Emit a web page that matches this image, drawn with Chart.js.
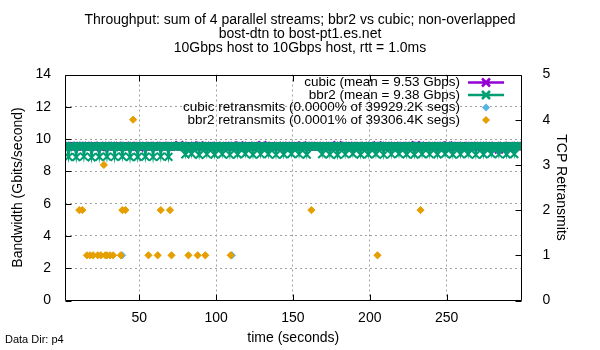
<!DOCTYPE html>
<html>
<head>
<meta charset="utf-8">
<script src="https://cdn.jsdelivr.net/npm/chart.js@4.4.0/dist/chart.umd.min.js"></script>
<style>
  body { margin: 0; background: #fff; }
</style>
</head>
<body>
<canvas id="chart" width="600" height="350"></canvas>
<script>
"use strict";

// one sample per second, first sample at t = 2 s
const T0 = 2;

const cubicGbps = [
  9.55,9.56,9.54,9.55,9.57,9.55,9.54,9.56,9.55,9.55,
  9.56,9.54,9.55,9.57,9.55,9.56,9.54,9.55,9.56,9.55,
  9.54,9.55,9.56,9.50,9.55,9.54,9.56,9.55,9.57,9.55,
  9.55,9.56,9.54,9.55,9.56,9.55,9.54,9.55,9.56,9.55,
  9.56,9.54,9.55,9.57,9.55,9.54,9.56,9.55,9.48,9.55,
  9.55,9.54,9.56,9.55,9.55,9.57,9.54,9.55,9.56,9.55,
  9.54,9.55,9.56,9.55,9.57,9.55,9.54,9.56,9.55,9.55,
  9.56,9.55,9.54,9.55,9.62,9.55,9.56,9.54,9.55,9.55,
  9.55,9.56,9.54,9.55,9.57,9.55,9.54,9.61,9.55,9.56,
  9.54,9.55,9.56,9.55,9.55,9.57,9.54,9.55,9.56,9.55,
  9.55,9.54,9.56,9.55,9.55,9.57,9.54,9.55,9.56,9.55,
  9.56,9.55,9.54,9.61,9.55,9.56,9.54,9.55,9.55,9.56,
  9.55,9.54,9.56,9.55,9.57,9.55,9.54,9.55,9.62,9.55,
  9.55,9.56,9.54,9.55,9.55,9.57,9.54,9.55,9.56,9.55,
  9.54,9.55,9.56,9.55,9.57,9.55,9.54,9.55,9.56,9.55,
  9.55,9.56,9.54,9.55,9.61,9.55,9.54,9.56,9.55,9.55,
  9.56,9.55,9.54,9.55,9.57,9.55,9.56,9.54,9.55,9.55,
  9.55,9.54,9.56,9.55,9.55,9.57,9.54,9.62,9.56,9.55,
  9.54,9.55,9.56,9.55,9.57,9.55,9.54,9.55,9.56,9.55,
  9.55,9.56,9.54,9.55,9.55,9.57,9.54,9.55,9.56,9.55,
  9.55,9.54,9.56,9.61,9.55,9.57,9.54,9.55,9.56,9.55,
  9.56,9.55,9.54,9.55,9.57,9.55,9.56,9.54,9.55,9.55,
  9.55,9.54,9.56,9.55,9.55,9.57,9.54,9.55,9.62,9.55,
  9.55,9.56,9.54,9.55,9.55,9.57,9.54,9.55,9.56,9.55,
  9.54,9.55,9.56,9.55,9.57,9.55,9.54,9.55,9.56,9.61,
  9.42,9.55,9.56,9.54,9.55,9.57,9.55,9.54,9.56,9.55,
  9.55,9.54,9.56,9.55,9.55,9.57,9.54,9.55,9.56,9.55,
  9.56,9.55,9.54,9.55,9.57,9.55,9.56,9.54,9.55,9.55,
  9.55,9.54,9.35,9.55,9.56,9.57,9.54,9.55,9.45,9.55,
  9.56,9.55,9.54,9.55,9.57,9.55,9.56
];

const bbr2Gbps = [
  9.55,9.52,8.90,9.56,9.54,9.55,9.50,8.88,9.56,9.55,
  9.53,9.57,8.92,9.55,9.54,9.56,9.52,8.87,9.55,9.56,
  9.54,9.55,8.90,9.56,9.53,9.55,9.54,8.91,9.56,9.55,
  9.52,9.56,8.89,9.55,9.57,9.54,9.50,8.93,9.55,9.56,
  9.55,9.53,8.88,9.56,9.55,9.54,9.52,8.90,9.56,9.55,
  9.54,9.56,8.91,9.55,9.53,9.57,9.54,8.89,9.55,9.56,
  9.55,9.52,8.92,9.56,9.54,9.55,9.53,8.90,9.56,9.55,
  9.54,9.56,9.55,9.53,9.57,9.55,9.54,9.56,9.05,9.55,
  9.56,9.54,9.08,9.55,9.57,9.53,9.55,9.02,9.56,9.54,
  9.55,9.56,9.06,9.54,9.55,9.57,9.53,9.04,9.56,9.55,
  9.54,9.55,9.07,9.56,9.53,9.55,9.54,9.03,9.56,9.55,
  9.57,9.54,9.05,9.55,9.56,9.53,9.55,9.08,9.54,9.56,
  9.55,9.54,9.04,9.56,9.55,9.57,9.54,9.06,9.55,9.56,
  9.53,9.55,9.07,9.54,9.56,9.55,9.53,9.03,9.56,9.55,
  9.54,9.57,9.05,9.55,9.54,9.56,9.55,9.08,9.53,9.55,
  9.56,9.54,9.06,9.55,9.57,9.54,9.55,9.04,9.56,9.55,
  9.54,9.55,9.55,9.56,9.53,9.55,9.54,9.07,9.56,9.55,
  9.55,9.54,9.05,9.56,9.55,9.53,9.55,9.02,9.54,9.56,
  9.55,9.57,9.06,9.54,9.55,9.56,9.53,9.08,9.55,9.54,
  9.56,9.55,9.04,9.55,9.54,9.57,9.55,9.05,9.56,9.53,
  9.55,9.54,9.07,9.56,9.55,9.54,9.56,9.03,9.55,9.57,
  9.54,9.55,9.06,9.53,9.56,9.55,9.54,9.08,9.55,9.56,
  9.55,9.53,9.05,9.56,9.54,9.55,9.57,9.04,9.55,9.54,
  9.56,9.55,9.07,9.54,9.55,9.56,9.53,9.06,9.55,9.54,
  9.55,9.57,9.05,9.56,9.54,9.55,9.53,9.08,9.56,9.55,
  9.54,9.55,9.04,9.56,9.55,9.53,9.55,9.06,9.54,9.56,
  9.55,9.54,9.07,9.55,9.56,9.54,9.55,9.03,9.56,9.55,
  9.54,9.56,9.05,9.55,9.53,9.55,9.56,9.08,9.54,9.55,
  9.56,9.55,9.06,9.54,9.55,9.57,9.54,9.05,9.56,9.55,
  9.54,9.55,9.07,9.56,9.55,9.54,9.56
];

const cubicRetransTime = [38.8, 110.2];
const cubicRetransCount = [1, 1];

const bbr2RetransTime = [11, 13, 16, 18, 20, 23, 25, 27, 28, 29, 31, 33, 38, 39, 41, 46,
  56, 62, 64, 70, 71, 82, 88, 93, 109.5, 162, 205, 233];
const bbr2RetransCount = [2, 2, 1, 1, 1, 1, 1, 3, 1, 1, 1, 1, 1, 2, 2, 4,
  1, 1, 2, 2, 1, 1, 1, 1, 1, 2, 1, 2];

const legendLabels = [
  "cubic (mean = 9.53 Gbps)",
  "bbr2 (mean = 9.38 Gbps)",
  "cubic retransmits (0.0000% of 39929.2K segs)",
  "bbr2 retransmits (0.0001% of 39306.4K segs)",
];

const titleLines = [
  "Throughput: sum of 4 parallel streams; bbr2 vs cubic; non-overlapped",
  "bost-dtn to bost-pt1.es.net",
  "10Gbps host to 10Gbps host, rtt = 1.0ms",
];

const COLORS = ["#9400d3", "#009e73", "#56b4e9", "#e69f00"];
const FONT = "'Liberation Sans', Arial, sans-serif";

Chart.defaults.font.family = FONT;
Chart.defaults.font.size = 14;
Chart.defaults.color = "#000";

function toPoints(times, values) {
  return values.map((v, i) => ({ x: times[i], y: v }));
}
function toSeries(values) {
  return values.map((v, i) => ({ x: T0 + i, y: v }));
}

// white page, gnuplot style frame with inward ticks, key and footer
const gnuplotFrame = {
  id: "gnuplotFrame",
  beforeDraw(chart) {
    const ctx = chart.ctx;
    ctx.save();
    ctx.fillStyle = "#fff";
    ctx.fillRect(0, 0, chart.width, chart.height);
    ctx.restore();
  },
  afterDatasetsDraw(chart) {
    const { ctx, chartArea: a, scales } = chart;
    const L = Math.round(a.left) + 0.5;
    const R = Math.round(a.right) - 0.5;
    const T = Math.round(a.top) + 0.5;
    const B = Math.round(a.bottom) - 0.5;
    ctx.save();
    ctx.strokeStyle = "#000";
    ctx.lineWidth = 1;
    ctx.beginPath();
    scales.x.ticks.forEach((t) => {
      if (t.value % 50 !== 0) return;
      const px = Math.round(scales.x.getPixelForValue(t.value)) + 0.5;
      ctx.moveTo(px, B); ctx.lineTo(px, B - 6);
      ctx.moveTo(px, T); ctx.lineTo(px, T + 6);
    });
    scales.y.ticks.forEach((t) => {
      const py = Math.round(scales.y.getPixelForValue(t.value)) + 0.5;
      ctx.moveTo(L, py); ctx.lineTo(L + 6, py);
    });
    scales.y2.ticks.forEach((t) => {
      const py = Math.round(scales.y2.getPixelForValue(t.value)) + 0.5;
      ctx.moveTo(R, py); ctx.lineTo(R - 6, py);
    });
    ctx.rect(L, T, R - L, B - T);
    ctx.stroke();

    // key, top right inside the plot
    const textRight = 460;
    const rows = [82.5, 95, 107.5, 120];
    ctx.font = "13.5px " + FONT;
    ctx.textAlign = "right";
    ctx.textBaseline = "middle";
    ctx.fillStyle = "#000";
    legendLabels.forEach((label, i) => {
      ctx.fillText(label, textRight, rows[i]);
      const y = rows[i];
      const cx = 486;
      ctx.strokeStyle = COLORS[i];
      ctx.fillStyle = COLORS[i];
      if (i < 2) {
        ctx.lineWidth = 2.5;
        ctx.beginPath();
        ctx.moveTo(468, y); ctx.lineTo(504, y);
        ctx.moveTo(cx - 4, y - 4); ctx.lineTo(cx + 4, y + 4);
        ctx.moveTo(cx - 4, y + 4); ctx.lineTo(cx + 4, y - 4);
        ctx.stroke();
      } else {
        ctx.beginPath();
        ctx.moveTo(cx - 4, y); ctx.lineTo(cx, y - 4);
        ctx.lineTo(cx + 4, y); ctx.lineTo(cx, y + 4);
        ctx.closePath();
        ctx.fill();
      }
      ctx.fillStyle = "#000";
    });

    ctx.font = "11px " + FONT;
    ctx.textAlign = "left";
    ctx.fillText("Data Dir: p4", 5, 340);
    ctx.restore();
  },
};

const gridColor = (c) => (c.tick && c.tick.value % 50 === 0 ? "#a0a0a0" : "rgba(0,0,0,0)");

new Chart(document.getElementById("chart"), {
  type: "line",
  data: {
    datasets: [
      {
        label: legendLabels[0],
        data: toSeries(cubicGbps),
        borderColor: COLORS[0],
        backgroundColor: COLORS[0],
        borderWidth: 2,
        pointStyle: "crossRot",
        pointRadius: 5.5,
        pointBorderWidth: 2,
        yAxisID: "y",
        order: 4,
      },
      {
        label: legendLabels[1],
        data: toSeries(bbr2Gbps),
        borderColor: COLORS[1],
        backgroundColor: COLORS[1],
        borderWidth: 2,
        pointStyle: "crossRot",
        pointRadius: 5.5,
        pointBorderWidth: 2,
        yAxisID: "y",
        order: 3,
      },
      {
        label: legendLabels[2],
        data: toPoints(cubicRetransTime, cubicRetransCount),
        showLine: false,
        borderColor: COLORS[2],
        backgroundColor: COLORS[2],
        pointStyle: "rectRot",
        pointRadius: 3.6,
        pointBorderWidth: 1,
        yAxisID: "y2",
        order: 2,
      },
      {
        label: legendLabels[3],
        data: toPoints(bbr2RetransTime, bbr2RetransCount),
        showLine: false,
        borderColor: COLORS[3],
        backgroundColor: COLORS[3],
        pointStyle: "rectRot",
        pointRadius: 3.6,
        pointBorderWidth: 1,
        yAxisID: "y2",
        order: 1,
      },
    ],
  },
  options: {
    responsive: false,
    animation: false,
    devicePixelRatio: 1,
    layout: { padding: 0 },
    elements: { line: { tension: 0 } },
    plugins: {
      legend: { display: false },
      tooltip: { enabled: false },
      title: {
        display: true,
        text: titleLines,
        font: { size: 14, weight: "normal", lineHeight: 1 },
        padding: { top: 13, bottom: 19.5 },
      },
    },
    scales: {
      x: {
        type: "linear",
        min: 1.7,
        max: 298.7,
        ticks: {
          stepSize: 50,
          padding: 9,
          maxRotation: 0,
          callback: (v) => (v % 50 === 0 ? v : ""),
        },
        grid: { drawTicks: false, color: gridColor },
        border: { display: false, dash: [2, 3] },
        title: { display: true, text: "time (seconds)", padding: { top: 0, bottom: 3 } },
        afterFit: (s) => { s.height = 49.5; },
      },
      y: {
        position: "left",
        min: 0,
        max: 14,
        ticks: { stepSize: 2, padding: 14 },
        grid: {
          drawTicks: false,
          color: (c) => (c.tick && c.tick.value > 0 && c.tick.value < 14 ? "#a0a0a0" : "rgba(0,0,0,0)"),
        },
        border: { display: false, dash: [2, 3] },
        title: { display: true, text: "Bandwidth (Gbits/second)", padding: { top: 10, bottom: 0 } },
        afterFit: (s) => { s.width = 65; },
      },
      y2: {
        position: "right",
        min: 0,
        max: 5,
        ticks: { stepSize: 1, padding: 13 },
        grid: { display: false },
        border: { display: false },
        title: { display: true, text: "TCP Retransmits", padding: { top: 30.6, bottom: 0 } },
        afterFit: (s) => { s.width = 78.5; },
      },
    },
  },
  plugins: [gnuplotFrame],
});
</script>
</body>
</html>
